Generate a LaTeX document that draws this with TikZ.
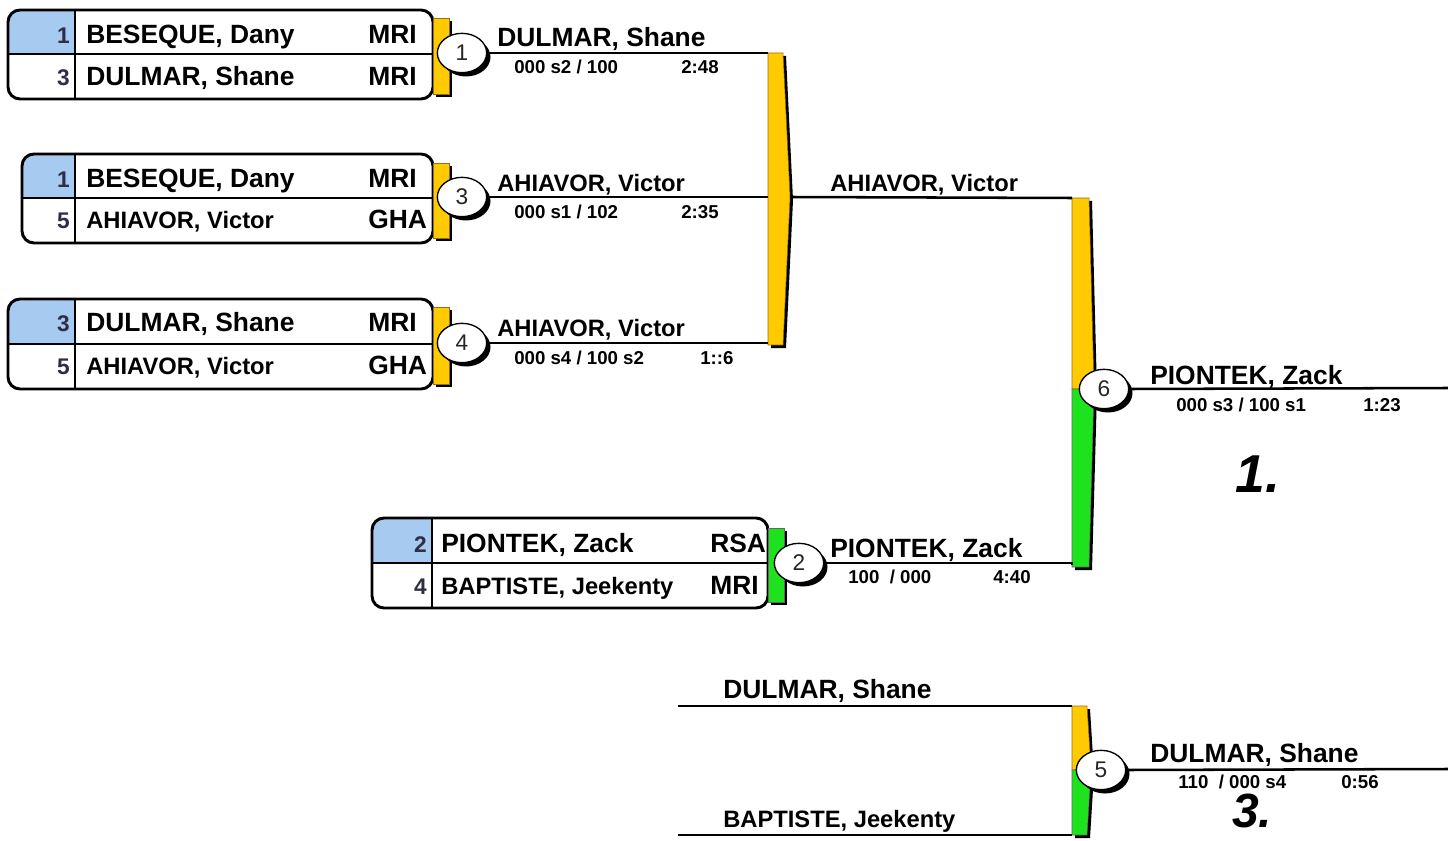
\documentclass[tikz,border=0pt]{standalone}
\usepackage{fontspec}
\setmainfont{Liberation Sans}
\newfontfamily\rankfont{Liberation Sans}
\usetikzlibrary{shapes.geometric}

\definecolor{seedblue}{RGB}{166,202,240}
\definecolor{seedgray}{RGB}{45,45,70}
\definecolor{tabyellow}{RGB}{255,202,0}
\definecolor{tabgreen}{RGB}{30,226,30}
\definecolor{tabedge}{RGB}{150,110,20}

\begin{document}
\begin{tikzpicture}[x=0.75pt,y=0.75pt,yscale=-1,xscale=1,
  player/.style={inner sep=0pt, anchor=base west, font=\bfseries\fontsize{19.8}{22}\selectfont},
  playerlong/.style={inner sep=0pt, anchor=base west, font=\bfseries\fontsize{17.8}{20}\selectfont},
  score/.style={inner sep=0pt, anchor=base west, font=\bfseries\fontsize{14}{16}\selectfont},
  seedno/.style={inner sep=0pt, anchor=base east, text=seedgray, font=\bfseries\fontsize{17}{20}\selectfont},
  matchno/.style={ellipse, draw=black, line width=1pt, fill=white, minimum width=37pt, minimum height=29.5pt, inner sep=0pt, text=black!85, font=\fontsize{17}{18}\selectfont},
  pairbox/.style={line width=2.2pt, rounded corners=9pt},
  cellline/.style={line width=1.1pt},
  matchline/.style={line width=1.9pt},
  rankno/.style={inner sep=0pt, anchor=base, font=\rankfont\bfseries\itshape\fontsize{40}{42}\selectfont}]
\useasboundingbox (0,0) rectangle (1448,841);
\clip (0,0) rectangle (1448,841);

%Shape: Box [id:pair1]
\begin{scope}
\clip [rounded corners=9pt] (8,10) rectangle (433,99);
\fill [seedblue] (8,10) rectangle (75,54);
\end{scope}
\draw [cellline] (8,54) -- (433,54) (75,10) -- (75,99);
\draw [pairbox] (8,10) rectangle (433,99);
%Shape: Box [id:pair2]
\begin{scope}
\clip [rounded corners=9pt] (22,154) rectangle (433,243);
\fill [seedblue] (22,154) rectangle (75,198);
\end{scope}
\draw [cellline] (22,198) -- (433,198) (75,154) -- (75,243);
\draw [pairbox] (22,154) rectangle (433,243);
%Shape: Box [id:pair3]
\begin{scope}
\clip [rounded corners=9pt] (8,299) rectangle (433,389);
\fill [seedblue] (8,299) rectangle (75,344);
\end{scope}
\draw [cellline] (8,344) -- (433,344) (75,299) -- (75,389);
\draw [pairbox] (8,299) rectangle (433,389);
%Shape: Box [id:pair4]
\begin{scope}
\clip [rounded corners=9pt] (372,518) rectangle (768,608);
\fill [seedblue] (372,518) rectangle (432,563);
\end{scope}
\draw [cellline] (372,563) -- (768,563) (432,518) -- (432,608);
\draw [pairbox] (372,518) rectangle (768,608);

%Shape: Tabs
\fill (436,21) rectangle (452,97);
\draw [fill=tabyellow, draw=tabedge] (433,18) rectangle (449,94);
\fill (436,166) rectangle (452,241);
\draw [fill=tabyellow, draw=tabedge] (433,163) rectangle (449,238);
\fill (436,310) rectangle (452,387);
\draw [fill=tabyellow, draw=tabedge] (433,307) rectangle (449,384);
\fill (771,531) rectangle (787,605);
\draw [fill=tabgreen, draw=black!60] (768,528) rectangle (784,602);

%Shape: Brackets
\fill (771,56) -- (786,56) -- (793,200) -- (786,348) -- (771,348) -- cycle;
\draw [fill=tabyellow, draw=tabedge] (768,53) -- (783,53) -- (790,197) -- (783,345) -- (768,345) -- cycle;
\fill (1075,201) -- (1092,201) -- (1097,392) -- (1092,570) -- (1075,570) -- cycle;
\draw [fill=tabyellow, draw=tabedge] (1072,198) -- (1089,198) -- (1094,389) -- (1072,389) -- cycle;
\draw [fill=tabgreen, draw=black!60] (1072,389) -- (1094,389) -- (1089,567) -- (1072,567) -- cycle;
\fill (1075,709) -- (1090,709) -- (1094,773) -- (1090,838) -- (1075,838) -- cycle;
\draw [fill=tabyellow, draw=tabedge] (1072,706) -- (1087,706) -- (1091,770) -- (1072,770) -- cycle;
\draw [fill=tabgreen, draw=black!60] (1072,770) -- (1091,770) -- (1087,835) -- (1072,835) -- cycle;

% Bracket ends
\coordinate (g1) at (768,53);
\coordinate (g3) at (768,197);
\coordinate (g4) at (768,343);
\coordinate (gout) at (790,197);
\coordinate (f6top) at (1072,198);
\coordinate (f6bot) at (1072,565);
\coordinate (end6) at (1448,388);
\coordinate (in5top) at (678,706);
\coordinate (f5top) at (1072,706);
\coordinate (in5bot) at (678,835);
\coordinate (f5bot) at (1072,835);
\coordinate (end5) at (1448,769);

%Shape: Match circles
\fill (466,57) ellipse (24.5 and 19.5);
\fill (466,201) ellipse (24.5 and 19.5);
\fill (466,347) ellipse (24.5 and 19.5);
\fill (803,567) ellipse (24.5 and 19.5);
\fill (1108,393) ellipse (24.5 and 19.5);
\fill (1105,774) ellipse (24.5 and 19.5);
\node [matchno] (m1) at (462,53) {1};
\node [matchno] (m3) at (462,197) {3};
\node [matchno] (m4) at (462,343) {4};
\node [matchno] (m2) at (799,563) {2};
\node [matchno] (m6) at (1104,389) {6};
\node [matchno] (m5) at (1101,770) {5};

%Straight Lines
\draw [matchline] (m1.east) -- (g1);
\draw [matchline] (m3.east) -- (g3);
\draw [matchline] (m4.east) -- (g4);
\draw [matchline] (gout) -- (f6top);
\draw [matchline] (m2.east) -- (m2.east -| f6bot) -- (f6bot);
\draw [matchline] (m6.east) -- (end6);
\draw [matchline] (in5top) -- (f5top);
\draw [matchline] (in5bot) -- (f5bot);
\draw [matchline] (m5.east) -- (end5);

% Text Node
\draw (70,43.5) node [seedno] (s1a) {1};
\draw (70,85.5) node [seedno] (s1b) {3};
\draw (86,43.5) node [player] (p1a) {BESEQUE, Dany};
\draw (86,85.5) node [player] (p1b) {DULMAR, Shane};
\draw (368,43.5) node [player] (c1a) {MRI};
\draw (368,85.5) node [player] (c1b) {MRI};
% Text Node
\draw (70,187.5) node [seedno] (s2a) {1};
\draw (70,228.5) node [seedno] (s2b) {5};
\draw (86,187.5) node [player] (p2a) {BESEQUE, Dany};
\draw (86,228.5) node [playerlong] (p2b) {AHIAVOR, Victor};
\draw (368,187.5) node [player] (c2a) {MRI};
\draw (368,228.5) node [player] (c2b) {GHA};
% Text Node
\draw (70,331.5) node [seedno] (s3a) {3};
\draw (70,374.5) node [seedno] (s3b) {5};
\draw (86,331.5) node [player] (p3a) {DULMAR, Shane};
\draw (86,374.5) node [playerlong] (p3b) {AHIAVOR, Victor};
\draw (368,331.5) node [player] (c3a) {MRI};
\draw (368,374.5) node [player] (c3b) {GHA};
% Text Node
\draw (427,552.5) node [seedno] (s4a) {2};
\draw (427,594.5) node [seedno] (s4b) {4};
\draw (441,552.5) node [player] (p4a) {PIONTEK, Zack};
\draw (441,594.5) node [playerlong] (p4b) {BAPTISTE, Jeekenty};
\draw (710,552.5) node [player] (c4a) {RSA};
\draw (710,594.5) node [player] (c4b) {MRI};

% Text Node
\draw (497,47) node [player] (w1) {DULMAR, Shane};
\draw (514,74) node [score] (r1) {000 s2 / 100};
\draw (681,74) node [score] (t1) {2:48};
\draw (497,192) node [playerlong] (w3) {AHIAVOR, Victor};
\draw (514,219) node [score] (r3) {000 s1 / 102};
\draw (681,219) node [score] (t3) {2:35};
\draw (497,337) node [playerlong] (w4) {AHIAVOR, Victor};
\draw (514,364) node [score] (r4) {000 s4 / 100 s2};
\draw (700,364) node [score] (t4) {1::6};
\draw (830,192) node [playerlong] (wg) {AHIAVOR, Victor};
\draw (830,557) node [player] (w2) {PIONTEK, Zack};
\draw (848,583) node [score] (r2) {100~ / 000};
\draw (993,583) node [score] (t2) {4:40};
\draw (1150,384) node [player] (w6) {PIONTEK, Zack};
\draw (1176,411) node [score] (r6) {000 s3 / 100 s1};
\draw (1363,411) node [score] (t6) {1:23};
\draw (1258,492) node [rankno] (first) {1.};
\draw (723,698) node [player] (q5a) {DULMAR, Shane};
\draw (723,827) node [playerlong] (q5b) {BAPTISTE, Jeekenty};
\draw (1150,762) node [player] (w5) {DULMAR, Shane};
\draw (1178,788) node [score] (r5) {110~ / 000 s4};
\draw (1341,788) node [score] (t5) {0:56};
\draw (1252,827) node [rankno, font=\rankfont\bfseries\itshape\fontsize{36}{38}\selectfont] (third) {3.};

\end{tikzpicture}
\end{document}
